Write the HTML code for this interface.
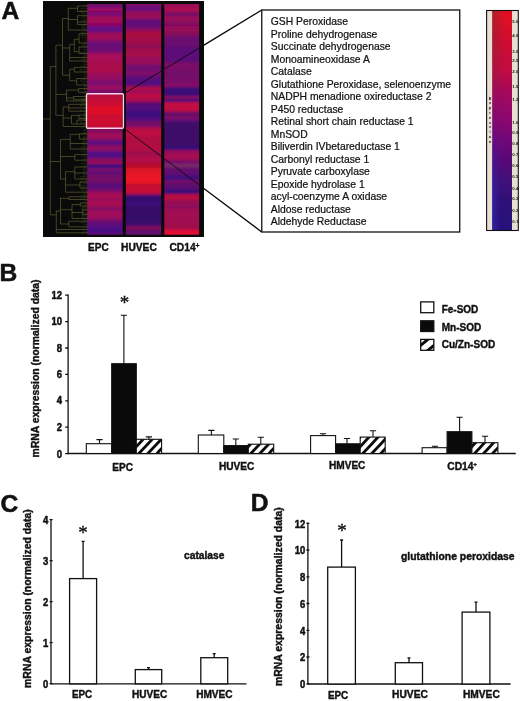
<!DOCTYPE html><html><head><meta charset="utf-8"><title>Figure</title>
<style>html,body{margin:0;padding:0;background:#fff}svg{display:block}text{font-family:"Liberation Sans",Arial,sans-serif;fill:#111}.b{font-weight:bold;stroke:#111;stroke-width:0.4px;stroke-linejoin:round}</style></head><body>
<svg width="520" height="701" viewBox="0 0 520 701">
<defs>
<pattern id="h1" patternUnits="userSpaceOnUse" width="20" height="6.6" patternTransform="translate(136.3 453.5) rotate(-47) translate(0 0.5)"><rect width="20" height="6.6" fill="#fff"/><rect x="0" y="0" width="20" height="2.8" fill="#0a0a0a"/></pattern>
<pattern id="h2" patternUnits="userSpaceOnUse" width="20" height="6.6" patternTransform="translate(248.3 453.5) rotate(-47) translate(0 0.5)"><rect width="20" height="6.6" fill="#fff"/><rect x="0" y="0" width="20" height="2.8" fill="#0a0a0a"/></pattern>
<pattern id="h3" patternUnits="userSpaceOnUse" width="20" height="6.6" patternTransform="translate(360.2 453.5) rotate(-47) translate(0 0.5)"><rect width="20" height="6.6" fill="#fff"/><rect x="0" y="0" width="20" height="2.8" fill="#0a0a0a"/></pattern>
<pattern id="h4" patternUnits="userSpaceOnUse" width="20" height="6.6" patternTransform="translate(471.9 453.5) rotate(-47) translate(0 0.5)"><rect width="20" height="6.6" fill="#fff"/><rect x="0" y="0" width="20" height="2.8" fill="#0a0a0a"/></pattern>
<pattern id="hl" patternUnits="userSpaceOnUse" width="20" height="8.8" patternTransform="translate(420.6 344.8) rotate(-47) translate(0 -1.3)"><rect width="20" height="8.8" fill="#fff"/><rect x="0" y="0" width="20" height="2.6" fill="#0a0a0a"/></pattern>
<linearGradient id="cbv" x1="0" y1="0" x2="0" y2="1"><stop offset="0.02" stop-color="#e01024"/><stop offset="0.13" stop-color="#d00c30"/><stop offset="0.27" stop-color="#c00c40"/><stop offset="0.36" stop-color="#a80858"/><stop offset="0.43" stop-color="#980868"/><stop offset="0.51" stop-color="#880870"/><stop offset="0.59" stop-color="#700878"/><stop offset="0.68" stop-color="#580878"/><stop offset="0.77" stop-color="#401078"/><stop offset="0.86" stop-color="#301078"/><stop offset="0.98" stop-color="#28107a"/></linearGradient>
<linearGradient id="cbh" x1="0" y1="0" x2="1" y2="0"><stop offset="0" stop-color="#404040" stop-opacity="0.35"/><stop offset="0.6" stop-color="#404040" stop-opacity="0"/></linearGradient>
<linearGradient id="cbb" x1="0" y1="0" x2="1" y2="0"><stop offset="0" stop-color="#3428b0" stop-opacity="0.7"/><stop offset="0.42" stop-color="#3428b0" stop-opacity="0"/></linearGradient>
<linearGradient id="cbm" x1="0" y1="0" x2="0" y2="1"><stop offset="0.45" stop-color="#000"/><stop offset="0.85" stop-color="#fff"/></linearGradient>
<linearGradient id="cbm2" x1="0" y1="0" x2="0" y2="1"><stop offset="0.0" stop-color="#fff"/><stop offset="0.6" stop-color="#000"/></linearGradient>
<mask id="mk" maskUnits="userSpaceOnUse" x="492" y="11" width="20" height="220"><rect x="492" y="11" width="20" height="220" fill="url(#cbm)"/></mask>
<mask id="mk2" maskUnits="userSpaceOnUse" x="492" y="11" width="20" height="220"><rect x="492" y="11" width="20" height="220" fill="url(#cbm2)"/></mask>
<filter id="bl" x="-10%" y="-5%" width="120%" height="110%"><feGaussianBlur stdDeviation="0 0.9"/></filter>
</defs>
<rect width="520" height="701" fill="#fff"/>
<rect x="43" y="1" width="161" height="236" fill="#0a0a0a"/>
<svg x="87.2" y="3.9" width="35.4" height="230.9" viewBox="87.2 3.9 35.4 230.9" preserveAspectRatio="none"><g filter="url(#bl)">
<rect x="84.2" y="0.9" width="41.4" height="236.90" fill="#730962"/>
<rect x="84.2" y="5.4" width="41.4" height="232.40" fill="#720777"/>
<rect x="84.2" y="8.0" width="41.4" height="229.80" fill="#a00760"/>
<rect x="84.2" y="10.6" width="41.4" height="227.20" fill="#880768"/>
<rect x="84.2" y="12.7" width="41.4" height="225.10" fill="#720777"/>
<rect x="84.2" y="15.7" width="41.4" height="222.10" fill="#a00759"/>
<rect x="84.2" y="22.5" width="41.4" height="215.30" fill="#980760"/>
<rect x="84.2" y="24.7" width="41.4" height="213.10" fill="#81076f"/>
<rect x="84.2" y="26.8" width="41.4" height="211.00" fill="#620785"/>
<rect x="84.2" y="31.5" width="41.4" height="206.30" fill="#810768"/>
<rect x="84.2" y="33.0" width="41.4" height="204.80" fill="#a00759"/>
<rect x="84.2" y="39.7" width="41.4" height="198.10" fill="#810768"/>
<rect x="84.2" y="42.0" width="41.4" height="195.80" fill="#6a0777"/>
<rect x="84.2" y="50.0" width="41.4" height="187.80" fill="#79076f"/>
<rect x="84.2" y="53.4" width="41.4" height="184.40" fill="#a80759"/>
<rect x="84.2" y="62.0" width="41.4" height="175.80" fill="#a8074a"/>
<rect x="84.2" y="73.0" width="41.4" height="164.80" fill="#980760"/>
<rect x="84.2" y="79.0" width="41.4" height="158.80" fill="#880768"/>
<rect x="84.2" y="81.7" width="41.4" height="156.10" fill="#790771"/>
<rect x="84.2" y="85.0" width="41.4" height="152.80" fill="#980760"/>
<rect x="84.2" y="90.0" width="41.4" height="147.80" fill="#720768"/>
<rect x="84.2" y="94.0" width="41.4" height="143.80" fill="#bc073b"/>
<rect x="84.2" y="100.0" width="41.4" height="137.80" fill="#c80734"/>
<rect x="84.2" y="106.0" width="41.4" height="131.80" fill="#e00725"/>
<rect x="84.2" y="114.0" width="41.4" height="123.80" fill="#cc0732"/>
<rect x="84.2" y="128.0" width="41.4" height="109.80" fill="#810760"/>
<rect x="84.2" y="133.0" width="41.4" height="104.80" fill="#a00759"/>
<rect x="84.2" y="138.0" width="41.4" height="99.80" fill="#880760"/>
<rect x="84.2" y="140.4" width="41.4" height="97.40" fill="#5b077e"/>
<rect x="84.2" y="145.0" width="41.4" height="92.80" fill="#880760"/>
<rect x="84.2" y="149.4" width="41.4" height="88.40" fill="#980768"/>
<rect x="84.2" y="151.0" width="41.4" height="86.80" fill="#530785"/>
<rect x="84.2" y="158.0" width="41.4" height="79.80" fill="#880760"/>
<rect x="84.2" y="162.0" width="41.4" height="75.80" fill="#a00751"/>
<rect x="84.2" y="164.0" width="41.4" height="73.80" fill="#3c077e"/>
<rect x="84.2" y="168.0" width="41.4" height="69.80" fill="#790768"/>
<rect x="84.2" y="171.6" width="41.4" height="66.20" fill="#57077e"/>
<rect x="84.2" y="174.0" width="41.4" height="63.80" fill="#720768"/>
<rect x="84.2" y="183.4" width="41.4" height="54.40" fill="#53077e"/>
<rect x="84.2" y="186.0" width="41.4" height="51.80" fill="#620777"/>
<rect x="84.2" y="190.0" width="41.4" height="47.80" fill="#880760"/>
<rect x="84.2" y="193.0" width="41.4" height="44.80" fill="#a80751"/>
<rect x="84.2" y="198.0" width="41.4" height="39.80" fill="#980760"/>
<rect x="84.2" y="200.5" width="41.4" height="37.30" fill="#a80751"/>
<rect x="84.2" y="206.5" width="41.4" height="31.30" fill="#880760"/>
<rect x="84.2" y="211.0" width="41.4" height="26.80" fill="#a00759"/>
<rect x="84.2" y="216.0" width="41.4" height="21.80" fill="#980760"/>
<rect x="84.2" y="219.4" width="41.4" height="18.40" fill="#72076f"/>
<rect x="84.2" y="222.8" width="41.4" height="15.00" fill="#5b077e"/>
<rect x="84.2" y="228.0" width="41.4" height="9.80" fill="#440785"/>
<rect x="84.2" y="232.0" width="41.4" height="5.80" fill="#5b0777"/>
</g></svg>
<svg x="125.9" y="3.9" width="35.3" height="230.9" viewBox="125.9 3.9 35.3 230.9" preserveAspectRatio="none"><g filter="url(#bl)">
<rect x="122.9" y="0.9" width="41.3" height="236.90" fill="#81076f"/>
<rect x="122.9" y="6.3" width="41.3" height="231.50" fill="#6a0777"/>
<rect x="122.9" y="11.4" width="41.3" height="226.40" fill="#980759"/>
<rect x="122.9" y="19.0" width="41.3" height="218.80" fill="#620777"/>
<rect x="122.9" y="27.7" width="41.3" height="210.10" fill="#880760"/>
<rect x="122.9" y="31.0" width="41.3" height="206.80" fill="#a80e42"/>
<rect x="122.9" y="38.0" width="41.3" height="199.80" fill="#a0074a"/>
<rect x="122.9" y="44.8" width="41.3" height="193.00" fill="#880759"/>
<rect x="122.9" y="48.0" width="41.3" height="189.80" fill="#a00751"/>
<rect x="122.9" y="51.6" width="41.3" height="186.20" fill="#a8074a"/>
<rect x="122.9" y="56.8" width="41.3" height="181.00" fill="#98075d"/>
<rect x="122.9" y="64.6" width="41.3" height="173.20" fill="#72076f"/>
<rect x="122.9" y="71.4" width="41.3" height="166.40" fill="#810768"/>
<rect x="122.9" y="75.0" width="41.3" height="162.80" fill="#620777"/>
<rect x="122.9" y="79.0" width="41.3" height="158.80" fill="#53077e"/>
<rect x="122.9" y="85.0" width="41.3" height="152.80" fill="#790768"/>
<rect x="122.9" y="87.0" width="41.3" height="150.80" fill="#b0074a"/>
<rect x="122.9" y="90.0" width="41.3" height="147.80" fill="#a00759"/>
<rect x="122.9" y="93.7" width="41.3" height="144.10" fill="#c00742"/>
<rect x="122.9" y="98.0" width="41.3" height="139.80" fill="#a80751"/>
<rect x="122.9" y="102.0" width="41.3" height="135.80" fill="#5b076f"/>
<rect x="122.9" y="105.0" width="41.3" height="132.80" fill="#53077e"/>
<rect x="122.9" y="111.0" width="41.3" height="126.80" fill="#3c077e"/>
<rect x="122.9" y="116.8" width="41.3" height="121.00" fill="#53077e"/>
<rect x="122.9" y="121.0" width="41.3" height="116.80" fill="#720768"/>
<rect x="122.9" y="127.0" width="41.3" height="110.80" fill="#b0074a"/>
<rect x="122.9" y="130.6" width="41.3" height="107.20" fill="#c00742"/>
<rect x="122.9" y="135.7" width="41.3" height="102.10" fill="#b00742"/>
<rect x="122.9" y="151.0" width="41.3" height="86.80" fill="#a00a4e"/>
<rect x="122.9" y="156.0" width="41.3" height="81.80" fill="#b0074a"/>
<rect x="122.9" y="163.0" width="41.3" height="74.80" fill="#b80e2c"/>
<rect x="122.9" y="168.0" width="41.3" height="69.80" fill="#dc1225"/>
<rect x="122.9" y="173.4" width="41.3" height="64.40" fill="#e81528"/>
<rect x="122.9" y="184.3" width="41.3" height="53.50" fill="#b00e34"/>
<rect x="122.9" y="186.0" width="41.3" height="51.80" fill="#c80734"/>
<rect x="122.9" y="192.8" width="41.3" height="45.00" fill="#a00751"/>
<rect x="122.9" y="195.0" width="41.3" height="42.80" fill="#35076f"/>
<rect x="122.9" y="201.4" width="41.3" height="36.40" fill="#3c0777"/>
<rect x="122.9" y="205.7" width="41.3" height="32.10" fill="#350768"/>
<rect x="122.9" y="221.0" width="41.3" height="16.80" fill="#3c076f"/>
<rect x="122.9" y="226.0" width="41.3" height="11.80" fill="#810759"/>
<rect x="122.9" y="229.7" width="41.3" height="8.10" fill="#62076f"/>
</g></svg>
<svg x="164.3" y="3.9" width="34.8" height="230.9" viewBox="164.3 3.9 34.8 230.9" preserveAspectRatio="none"><g filter="url(#bl)">
<rect x="161.3" y="0.9" width="40.8" height="236.90" fill="#980759"/>
<rect x="161.3" y="7.0" width="40.8" height="230.80" fill="#a80751"/>
<rect x="161.3" y="12.3" width="40.8" height="225.50" fill="#720768"/>
<rect x="161.3" y="15.7" width="40.8" height="222.10" fill="#980759"/>
<rect x="161.3" y="21.7" width="40.8" height="216.10" fill="#810760"/>
<rect x="161.3" y="24.3" width="40.8" height="213.50" fill="#880760"/>
<rect x="161.3" y="26.8" width="40.8" height="211.00" fill="#980759"/>
<rect x="161.3" y="31.0" width="40.8" height="206.80" fill="#880759"/>
<rect x="161.3" y="36.0" width="40.8" height="201.80" fill="#6a076f"/>
<rect x="161.3" y="46.5" width="40.8" height="191.30" fill="#5b0777"/>
<rect x="161.3" y="62.0" width="40.8" height="175.80" fill="#790768"/>
<rect x="161.3" y="70.5" width="40.8" height="167.30" fill="#720768"/>
<rect x="161.3" y="78.0" width="40.8" height="159.80" fill="#790768"/>
<rect x="161.3" y="84.0" width="40.8" height="153.80" fill="#880768"/>
<rect x="161.3" y="87.0" width="40.8" height="150.80" fill="#3c0777"/>
<rect x="161.3" y="96.0" width="40.8" height="141.80" fill="#880760"/>
<rect x="161.3" y="99.0" width="40.8" height="138.80" fill="#440777"/>
<rect x="161.3" y="102.0" width="40.8" height="135.80" fill="#c00742"/>
<rect x="161.3" y="111.7" width="40.8" height="126.10" fill="#6a0768"/>
<rect x="161.3" y="116.8" width="40.8" height="121.00" fill="#810768"/>
<rect x="161.3" y="119.4" width="40.8" height="118.40" fill="#5b0777"/>
<rect x="161.3" y="122.0" width="40.8" height="115.80" fill="#3c0768"/>
<rect x="161.3" y="146.0" width="40.8" height="91.80" fill="#350777"/>
<rect x="161.3" y="150.0" width="40.8" height="87.80" fill="#980759"/>
<rect x="161.3" y="154.5" width="40.8" height="83.30" fill="#a80751"/>
<rect x="161.3" y="159.7" width="40.8" height="78.10" fill="#790768"/>
<rect x="161.3" y="164.0" width="40.8" height="73.80" fill="#792b68"/>
<rect x="161.3" y="167.4" width="40.8" height="70.40" fill="#62076f"/>
<rect x="161.3" y="175.0" width="40.8" height="62.80" fill="#44077e"/>
<rect x="161.3" y="180.0" width="40.8" height="57.80" fill="#720768"/>
<rect x="161.3" y="183.4" width="40.8" height="54.40" fill="#5b076f"/>
<rect x="161.3" y="189.4" width="40.8" height="48.40" fill="#3c0777"/>
<rect x="161.3" y="194.0" width="40.8" height="43.80" fill="#b80742"/>
<rect x="161.3" y="200.5" width="40.8" height="37.30" fill="#880759"/>
<rect x="161.3" y="202.0" width="40.8" height="35.80" fill="#980759"/>
<rect x="161.3" y="206.5" width="40.8" height="31.30" fill="#790760"/>
<rect x="161.3" y="208.0" width="40.8" height="29.80" fill="#a00751"/>
<rect x="161.3" y="224.5" width="40.8" height="13.30" fill="#a00e4a"/>
<rect x="161.3" y="229.7" width="40.8" height="8.10" fill="#e00734"/>
</g></svg>
<g stroke="#74743c" stroke-width="0.7" fill="none" opacity="0.78">
<path d="M55.9 45.2V115.4M62.5 18.5V75.2M68.3 8.3V30M74.3 39.2V51.7M77.5 6V11.5M77.5 15.7V24.5M79 33.7V43M79 47V53.5M69.7 44.3V61M50.3 66.5V214.8M69.7 69.2V80.8M74.3 67.4V72M76.6 78.5V85M66.5 90V101M73.4 96.5V99.7M78.5 88.6V92.3M63.2 107V126.5M68.8 104.3V111.2M71.5 115.4V124M79 115V118.5M77 120V124M60.5 139.4V179M70.2 134.3V149M74.8 154.6V160.2M65.5 171.7V192.2M74.8 167V179M79.4 133.8V139M56.3 211V232.8M60.5 197.7V224M72 204.6V218.5M79.9 182V188M80.3 203V206M82.6 209.7V214.3M68.8 196.8V199.5M68.8 221.2V226.8M77.5 6H87.5M68.3 8.3H77.5M77.5 11.5H87.5M77.5 15.7H87.5M62.5 18.5H68.3M68.3 19.5H77.5M77.5 22H87.5M77.5 24.5H87.5M68.3 30H87.5M79 33.7H87.5M74.3 39.2H79M79 43H87.5M69.7 44.3H74.3M55.9 45.2H62.5M62.5 48H69.7M79 47H87.5M74.3 51.7H79M79 53.5H87.5M69.7 57.5H87.5M69.7 61H87.5M50.3 66.5H56.3M62.5 75.2H69.7M69.7 69.2H74.3M74.3 67.4H87.5M74.3 72H87.5M69.7 80.8H76.6M76.6 78.5H87.5M76.6 85H87.5M56.3 94.4H66.5M66.5 90H78.5M78.5 88.6H87.5M78.5 92.3H87.5M66.5 101H87.5M66.5 98H73.4M73.4 96.5H87.5M73.4 99.7H87.5M56.3 115.4H63.2M63.2 107H68.8M68.8 104.3H87.5M68.8 108H87.5M68.8 111.2H87.5M63.2 118H71.5M71.5 115.4H79M79 115H87.5M79 118.5H87.5M71.5 124H77M77 120H87.5M77 124H87.5M43 119H50.3M63.2 126.5H87.5M60.5 139.4H70.2M70.2 134.3H79.4M79.4 133.8H87.5M79.4 139H87.5M70.2 143.5H87.5M70.2 149H87.5M60.5 156.5H74.8M74.8 154.6H87.5M74.8 160.2H87.5M50.3 161.5H60.5M60.5 179H65.5M65.5 171.7H74.8M74.8 167H87.5M74.8 173H87.5M74.8 179H87.5M50.3 214.8H56.3M56.3 211H60.5M60.5 198.3H68.8M68.8 196.8H87.5M68.8 199.5H87.5M60.5 209.7H72M72 204.6H80.3M80.3 203H87.5M80.3 206H87.5M72 212.5H82.6M82.6 209.7H87.5M82.6 214.3H87.5M72 218.5H87.5M60.5 224H68.8M68.8 221.2H87.5M68.8 226.8H87.5M56.3 229.5H87.5M56.3 232.8H87.5M65.5 185H79.9M79.9 182H87.5M79.9 188H87.5M65.5 192.2H87.5"/>
</g>
<g stroke="#466022" stroke-width="0.6" fill="none" opacity="0.5">
<path d="M83.5 5.0H87.6M84.5 6.7H87.6M80.5 8.4H87.6M80.5 10.1H87.6M80.5 10.1V11.8M80.5 11.8H87.6M82 13.5H87.6M82 13.5V15.2M84.5 15.2H87.6M84.5 15.2V16.9M82 16.9H87.6M82 16.9V18.6M84.5 18.6H87.6M84.5 18.6V20.3M80.5 20.3H87.6M80.5 22.0H87.6M84.5 23.7H87.6M84.5 23.7V25.4M82 25.4H87.6M82 25.4V27.1M82 27.1H87.6M82 27.1V28.8M82 28.8H87.6M83.5 30.5H87.6M82 32.2H87.6M82 32.2V33.9M82 33.9H87.6M82 33.9V35.6M80.5 35.6H87.6M82 37.3H87.6M82 37.3V39.0M84.5 39.0H87.6M84.5 40.7H87.6M84.5 42.4H87.6M84.5 42.4V44.1M82 44.1H87.6M82 45.8H87.6M82 45.8V47.5M83.5 47.5H87.6M83.5 49.2H87.6M83.5 50.9H87.6M80.5 52.6H87.6M80.5 52.6V54.3M84.5 54.3H87.6M84.5 54.3V56.0M83.5 56.0H87.6M83.5 56.0V57.7M84.5 57.7H87.6M84.5 57.7V59.4M80.5 59.4H87.6M83.5 61.1H87.6M83.5 61.1V62.8M83.5 62.8H87.6M84.5 64.5H87.6M84.5 64.5V66.2M80.5 66.2H87.6M84.5 67.9H87.6M80.5 69.6H87.6M80.5 69.6V71.3M83.5 71.3H87.6M84.5 73.0H87.6M84.5 73.0V74.7M84.5 74.7H87.6M83.5 76.4H87.6M83.5 76.4V78.1M84.5 78.1H87.6M84.5 78.1V79.8M80.5 79.8H87.6M80.5 79.8V81.5M82 81.5H87.6M82 83.2H87.6M84.5 84.9H87.6M84.5 84.9V86.6M84.5 86.6H87.6M84.5 86.6V88.3M84.5 88.3H87.6M84.5 88.3V90.0M83.5 90.0H87.6M84.5 91.7H87.6M83.5 93.4H87.6M83.5 95.1H87.6M84.5 96.8H87.6M82 98.5H87.6M82 98.5V100.2M82 100.2H87.6M82 100.2V101.9M82 101.9H87.6M82 101.9V103.6M82 103.6H87.6M82 103.6V105.3M80.5 105.3H87.6M80.5 105.3V107.0M83.5 107.0H87.6M83.5 108.7H87.6M80.5 110.4H87.6M80.5 110.4V112.1M84.5 112.1H87.6M84.5 112.1V113.8M84.5 113.8H87.6M84.5 113.8V115.5M84.5 115.5H87.6M84.5 115.5V117.2M80.5 117.2H87.6M84.5 118.9H87.6M84.5 118.9V120.6M83.5 120.6H87.6M80.5 122.3H87.6M80.5 122.3V124.0M82 124.0H87.6M83.5 125.7H87.6M80.5 127.4H87.6M84.5 129.1H87.6M84.5 129.1V130.8M83.5 130.8H87.6M83.5 132.5H87.6M83.5 132.5V134.2M80.5 134.2H87.6M84.5 135.9H87.6M84.5 135.9V137.6M83.5 137.6H87.6M83.5 137.6V139.3M80.5 139.3H87.6M83.5 141.0H87.6M83.5 141.0V142.7M82 142.7H87.6M82 144.4H87.6M83.5 146.1H87.6M83.5 146.1V147.8M80.5 147.8H87.6M83.5 149.5H87.6M80.5 151.2H87.6M83.5 152.9H87.6M82 154.6H87.6M82 154.6V156.3M82 156.3H87.6M83.5 158.0H87.6M82 159.7H87.6M84.5 161.4H87.6M82 163.1H87.6M82 163.1V164.8M84.5 164.8H87.6M84.5 164.8V166.5M80.5 166.5H87.6M83.5 168.2H87.6M83.5 168.2V169.9M82 169.9H87.6M83.5 171.6H87.6M83.5 171.6V173.3M83.5 173.3H87.6M83.5 175.0H87.6M83.5 175.0V176.7M80.5 176.7H87.6M80.5 176.7V178.4M82 178.4H87.6M82 178.4V180.1M84.5 180.1H87.6M80.5 181.8H87.6M80.5 181.8V183.5M83.5 183.5H87.6M80.5 185.2H87.6M80.5 186.9H87.6M82 188.6H87.6M82 188.6V190.3M82 190.3H87.6M82 190.3V192.0M83.5 192.0H87.6M83.5 192.0V193.7M84.5 193.7H87.6M84.5 193.7V195.4M80.5 195.4H87.6M82 197.1H87.6M80.5 198.8H87.6M80.5 198.8V200.5M84.5 200.5H87.6M82 202.2H87.6M84.5 203.9H87.6M83.5 205.6H87.6M83.5 205.6V207.3M82 207.3H87.6M82 207.3V209.0M80.5 209.0H87.6M82 210.7H87.6M82 210.7V212.4M82 212.4H87.6M82 214.1H87.6M82 214.1V215.8M82 215.8H87.6M82 215.8V217.5M82 217.5H87.6M83.5 219.2H87.6M83.5 219.2V220.9M84.5 220.9H87.6M80.5 222.6H87.6M83.5 224.3H87.6M84.5 226.0H87.6M82 227.7H87.6M80.5 229.4H87.6M82 231.1H87.6M82 232.8H87.6M82 232.8V234.5"/>
</g>
<g stroke="#0a0a0a" fill="none"><path stroke-width="0.9" d="M123.5 94L204 45.1M123.5 128L204 188.55"/><path stroke-width="1.3" d="M203.5 45.4L261.75 10M203.5 188.2L261.75 232"/></g>
<rect x="86.5" y="93.7" width="36.9" height="34.6" rx="1.2" fill="none" stroke="#fcd4e6" stroke-width="1.35"/>
<rect x="261.75" y="10" width="198" height="222" fill="#fff" stroke="#111" stroke-width="1.3"/>
<g font-size="10.36" stroke="#111" stroke-width="0.22">
<text x="270.8" y="25.00">GSH Peroxidase</text>
<text x="270.8" y="37.50">Proline dehydrogenase</text>
<text x="270.8" y="50.00">Succinate dehydrogenase</text>
<text x="270.8" y="62.50">Monoamineoxidase A</text>
<text x="270.8" y="75.00">Catalase</text>
<text x="270.8" y="87.50">Glutathione Peroxidase, selenoenzyme</text>
<text x="270.8" y="100.00">NADPH menadione oxireductase 2</text>
<text x="270.8" y="112.50">P450 reductase</text>
<text x="270.8" y="125.00">Retinal short chain reductase 1</text>
<text x="270.8" y="137.50">MnSOD</text>
<text x="270.8" y="150.00">Biliverdin IVbetareductase 1</text>
<text x="270.8" y="162.50">Carbonyl reductase 1</text>
<text x="270.8" y="175.00">Pyruvate carboxylase</text>
<text x="270.8" y="187.50">Epoxide hydrolase 1</text>
<text x="270.8" y="200.00">acyl-coenzyme A oxidase</text>
<text x="270.8" y="212.50">Aldose reductase</text>
<text x="270.8" y="225.00">Aldehyde Reductase</text>
</g>
<g class="b" font-size="10.25">
<text x="88.1" y="250.8" textLength="20.6" lengthAdjust="spacingAndGlyphs">EPC</text>
<text x="121" y="250.8" textLength="35.8" lengthAdjust="spacingAndGlyphs">HUVEC</text>
<text x="169.4" y="250.8">CD14<tspan font-size="6.8" dy="-3.2">+</tspan></text>
</g>
<rect x="486.6" y="10.5" width="31.7" height="220" fill="#e9ded2"/>
<rect x="492.2" y="11" width="19.8" height="219" fill="url(#cbv)"/>
<rect x="492.2" y="11" width="19.8" height="219" fill="url(#cbh)" mask="url(#mk2)"/>
<rect x="492.2" y="11" width="19.8" height="219" fill="url(#cbb)" mask="url(#mk)"/>
<rect x="486.6" y="10.5" width="31.7" height="220" fill="none" stroke="#111" stroke-width="1.1"/>
<g font-size="4.3" font-weight="bold" fill="#333">
<text x="512.3" y="23.3">5.0</text>
<text x="512.3" y="37.3">4.0</text>
<text x="512.3" y="52.7">3.0</text>
<text x="512.3" y="61.6">2.5</text>
<text x="512.3" y="72.9">2.0</text>
<text x="512.3" y="87.8">1.5</text>
<text x="512.3" y="101.0">1.2</text>
<text x="512.3" y="123.5">1.0</text>
<text x="512.3" y="134.4">0.9</text>
<text x="512.3" y="145.1">0.8</text>
<text x="512.3" y="156.1">0.7</text>
<text x="512.3" y="167.4">0.6</text>
<text x="512.3" y="178.1">0.5</text>
<text x="512.3" y="189.7">0.4</text>
<text x="512.3" y="200.1">0.3</text>
<text x="512.3" y="212.0">0.2</text>
<text x="512.3" y="223.1">0.1</text>
</g><g font-size="4" font-weight="bold" fill="#333" text-anchor="middle">
<text x="490" y="99.6">E</text>
<text x="490" y="104.4">x</text>
<text x="490" y="109.2">p</text>
<text x="490" y="114.0">r</text>
<text x="490" y="118.8">e</text>
<text x="490" y="123.6">s</text>
<text x="490" y="128.4">s</text>
<text x="490" y="133.2">i</text>
<text x="490" y="138.0">o</text>
<text x="490" y="142.8">n</text>
</g>
<g class="b" font-size="24.6" style="stroke-width:0.55px">
<text x="1.5" y="18.6">A</text><text x="-0.6" y="281">B</text><text x="0.4" y="511.8">C</text><text x="250.8" y="511.3">D</text>
</g>
<text class="b" font-size="10.3" transform="translate(38.5 457.5) rotate(-90)" textLength="178" lengthAdjust="spacingAndGlyphs">mRNA expression (normalized data)</text>
<g stroke="#111" stroke-width="1.3" fill="none">
<path d="M68.1 294.6V453.5H515.8"/>
<path d="M65.2 453.6H68.1M65.2 427.2H68.1M65.2 400.8H68.1M65.2 374.4H68.1M65.2 348.0H68.1M65.2 321.6H68.1M65.2 295.2H68.1"/>
</g>
<g class="b" font-size="10.2" text-anchor="end" style="stroke-width:0.5px">
<text transform="translate(62.1 458.2) scale(0.93 1)">0</text>
<text transform="translate(62.1 430.8) scale(0.93 1)">2</text>
<text transform="translate(62.1 404.4) scale(0.93 1)">4</text>
<text transform="translate(62.1 378.0) scale(0.93 1)">6</text>
<text transform="translate(62.1 351.6) scale(0.93 1)">8</text>
<text transform="translate(62.1 325.2) scale(0.93 1)">10</text>
<text transform="translate(62.1 298.8) scale(0.93 1)">12</text>
</g>
<rect x="86.3" y="443.7" width="25.4" height="9.8" fill="#fff" stroke="#111" stroke-width="1.1"/>
<path d="M99.5 443.7V439.6M96.4 439.6H102.6" stroke="#111" stroke-width="1.1" fill="none"/>
<rect x="111.7" y="363.7" width="24.6" height="89.8" fill="#0a0a0a" stroke="#111" stroke-width="1.1"/>
<path d="M123.9 363.7V315.2M120.8 315.2H127.0" stroke="#111" stroke-width="1.1" fill="none"/>
<rect x="136.3" y="439.3" width="25.3" height="14.2" fill="url(#h1)" stroke="#111" stroke-width="1.1"/>
<path d="M148.9 439.3V436.9M145.8 436.9H152.0" stroke="#111" stroke-width="1.1" fill="none"/>
<rect x="198.3" y="435" width="25.5" height="18.5" fill="#fff" stroke="#111" stroke-width="1.1"/>
<path d="M211.4 435V430.4M208.3 430.4H214.5" stroke="#111" stroke-width="1.1" fill="none"/>
<rect x="223.8" y="445.6" width="24.5" height="7.9" fill="#0a0a0a" stroke="#111" stroke-width="1.1"/>
<path d="M235.8 445.6V439M232.7 439H238.9" stroke="#111" stroke-width="1.1" fill="none"/>
<rect x="248.3" y="444.2" width="25.4" height="9.3" fill="url(#h2)" stroke="#111" stroke-width="1.1"/>
<path d="M260.8 444.2V437.3M257.7 437.3H263.9" stroke="#111" stroke-width="1.1" fill="none"/>
<rect x="310.6" y="435.6" width="25.0" height="17.9" fill="#fff" stroke="#111" stroke-width="1.1"/>
<path d="M323.0 435.6V433.7M319.9 433.7H326.1" stroke="#111" stroke-width="1.1" fill="none"/>
<rect x="335.6" y="443.8" width="24.6" height="9.7" fill="#0a0a0a" stroke="#111" stroke-width="1.1"/>
<path d="M347.0 443.8V438.5M343.9 438.5H350.1" stroke="#111" stroke-width="1.1" fill="none"/>
<rect x="360.2" y="437.1" width="25.0" height="16.4" fill="url(#h3)" stroke="#111" stroke-width="1.1"/>
<path d="M373.0 437.1V430.8M369.9 430.8H376.1" stroke="#111" stroke-width="1.1" fill="none"/>
<rect x="422.1" y="447.7" width="25.0" height="5.8" fill="#fff" stroke="#111" stroke-width="1.1"/>
<path d="M435.0 447.7V446.3M431.9 446.3H438.1" stroke="#111" stroke-width="1.1" fill="none"/>
<rect x="447.1" y="431.7" width="24.8" height="21.8" fill="#0a0a0a" stroke="#111" stroke-width="1.1"/>
<path d="M459.6 431.7V417.3M456.5 417.3H462.7" stroke="#111" stroke-width="1.1" fill="none"/>
<rect x="471.9" y="442.7" width="26.0" height="10.8" fill="url(#h4)" stroke="#111" stroke-width="1.1"/>
<path d="M485.0 442.7V436.2M481.9 436.2H488.1" stroke="#111" stroke-width="1.1" fill="none"/>
<g class="b" font-size="10.25">
<text x="112.3" y="471.2" textLength="20.6" lengthAdjust="spacingAndGlyphs">EPC</text>
<text x="219" y="469.6" textLength="35.4" lengthAdjust="spacingAndGlyphs">HUVEC</text>
<text x="329" y="469.3" textLength="36.4" lengthAdjust="spacingAndGlyphs">HMVEC</text>
<text x="447.3" y="469.6">CD14<tspan font-size="5.6" dy="-3.5">+</tspan></text>
</g>
<rect x="420.7" y="301.9" width="13.1" height="10.8" fill="#fff" stroke="#111" stroke-width="1.3"/>
<rect x="420.7" y="320.8" width="13.1" height="10.7" fill="#0a0a0a" stroke="#111" stroke-width="1.3"/>
<clipPath id="lc"><rect x="420.7" y="339.4" width="13.1" height="10.9"/></clipPath>
<rect x="420.7" y="339.4" width="13.1" height="10.9" fill="#fff"/>
<g clip-path="url(#lc)" stroke="#0a0a0a" stroke-width="2.9"><path d="M416.9 348.3L431.7 336.3M424.1 353.4L437.5 342.4"/></g>
<rect x="420.7" y="339.4" width="13.1" height="10.9" fill="none" stroke="#111" stroke-width="1.3"/>
<g class="b" font-size="10.1">
<text x="441.7" y="312.7" textLength="36.6" lengthAdjust="spacingAndGlyphs">Fe-SOD</text>
<text x="441.7" y="331" textLength="39.5" lengthAdjust="spacingAndGlyphs">Mn-SOD</text>
<text x="441.7" y="348.4" textLength="53.5" lengthAdjust="spacingAndGlyphs">Cu/Zn-SOD</text>
</g>
<text x="124.4" y="309.4" text-anchor="middle" font-size="19" stroke="#111" stroke-width="0.35" style="font-family:'Liberation Serif',serif">*</text>
<text class="b" font-size="10.3" transform="translate(30.6 687.9) rotate(-90)" textLength="178.6" lengthAdjust="spacingAndGlyphs">mRNA expression (normalized data)</text>
<g stroke="#111" stroke-width="1.3" fill="none">
<path d="M51 519V683.8H246.5"/>
<path d="M49.6 683.7H52.6M49.6 642.7H52.6M49.6 601.6H52.6M49.6 560.6H52.6M49.6 519.6H52.6"/>
</g>
<g class="b" font-size="10.2" text-anchor="end" style="stroke-width:0.5px">
<text transform="translate(48.2 688.1) scale(0.93 1)">0</text>
<text transform="translate(48.2 647.1) scale(0.93 1)">1</text>
<text transform="translate(48.2 606.0) scale(0.93 1)">2</text>
<text transform="translate(48.2 565.0) scale(0.93 1)">3</text>
<text transform="translate(48.2 524.0) scale(0.93 1)">4</text>
</g>
<rect x="69.6" y="578.6" width="27.0" height="105.2" fill="#fff" stroke="#111" stroke-width="1.3"/>
<path d="M83.1 578.6V541.4M81.6 541.4H84.6" stroke="#111" stroke-width="1.3" fill="none"/>
<rect x="135.3" y="669.6" width="26.4" height="14.2" fill="#fff" stroke="#111" stroke-width="1.3"/>
<path d="M148.5 669.6V667.7M147.0 667.7H150.0" stroke="#111" stroke-width="1.3" fill="none"/>
<rect x="200.8" y="657.7" width="26.9" height="26.1" fill="#fff" stroke="#111" stroke-width="1.3"/>
<path d="M214.2 657.7V653.7M212.7 653.7H215.7" stroke="#111" stroke-width="1.3" fill="none"/>
<text x="83" y="538.6" text-anchor="middle" font-size="19" stroke="#111" stroke-width="0.35" style="font-family:'Liberation Serif',serif">*</text>
<g class="b" font-size="10.25">
<text x="71.9" y="698.4" textLength="20.3" lengthAdjust="spacingAndGlyphs">EPC</text>
<text x="132.1" y="698.2" textLength="35.2" lengthAdjust="spacingAndGlyphs">HUVEC</text>
<text x="196.2" y="698.2" textLength="36.4" lengthAdjust="spacingAndGlyphs">HMVEC</text>
<text x="184" y="559.4" textLength="40.4" lengthAdjust="spacingAndGlyphs">catalase</text>
</g>
<text class="b" font-size="10.3" transform="translate(281.5 686.1) rotate(-90)" textLength="178.8" lengthAdjust="spacingAndGlyphs">mRNA expression (normalized data)</text>
<g stroke="#111" stroke-width="1.3" fill="none">
<path d="M307.9 522.4V684H510.6"/>
<path d="M306.4 683.8H309.4M306.4 657.0H309.4M306.4 630.3H309.4M306.4 603.5H309.4M306.4 576.8H309.4M306.4 550.0H309.4M306.4 523.3H309.4"/>
</g>
<g class="b" font-size="10.2" text-anchor="end" style="stroke-width:0.5px">
<text transform="translate(305.2 688.1) scale(0.93 1)">0</text>
<text transform="translate(305.2 661.3) scale(0.93 1)">2</text>
<text transform="translate(305.2 634.6) scale(0.93 1)">4</text>
<text transform="translate(305.2 607.8) scale(0.93 1)">6</text>
<text transform="translate(305.2 581.1) scale(0.93 1)">8</text>
<text transform="translate(305.2 554.3) scale(0.93 1)">10</text>
<text transform="translate(305.2 527.6) scale(0.93 1)">12</text>
</g>
<rect x="327.7" y="567.1" width="27.7" height="116.9" fill="#fff" stroke="#111" stroke-width="1.3"/>
<path d="M341.6 567.1V540M340.1 540H343.1" stroke="#111" stroke-width="1.3" fill="none"/>
<rect x="395.3" y="662.7" width="27.2" height="21.3" fill="#fff" stroke="#111" stroke-width="1.3"/>
<path d="M409.0 662.7V657.9M407.5 657.9H410.5" stroke="#111" stroke-width="1.3" fill="none"/>
<rect x="462.1" y="612.1" width="27.8" height="71.9" fill="#fff" stroke="#111" stroke-width="1.3"/>
<path d="M476.0 612.1V602.2M474.5 602.2H477.5" stroke="#111" stroke-width="1.3" fill="none"/>
<text x="342" y="537.4" text-anchor="middle" font-size="19" stroke="#111" stroke-width="0.35" style="font-family:'Liberation Serif',serif">*</text>
<g class="b" font-size="10.25">
<text x="327.9" y="699.1" textLength="20.4" lengthAdjust="spacingAndGlyphs">EPC</text>
<text x="392.1" y="698.4" textLength="35.8" lengthAdjust="spacingAndGlyphs">HUVEC</text>
<text x="462.9" y="698.4" textLength="36.9" lengthAdjust="spacingAndGlyphs">HMVEC</text>
<text x="401" y="560.4" textLength="113.6" lengthAdjust="spacingAndGlyphs">glutathione peroxidase</text>
</g>
</svg></body></html>
